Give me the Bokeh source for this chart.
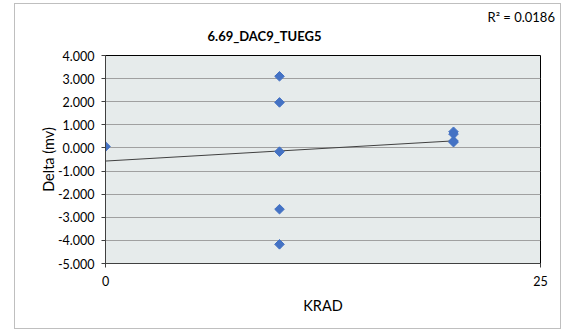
import numpy as np
from bokeh.plotting import figure
from bokeh.models import FixedTicker, NumeralTickFormatter, Title, Range1d
from bokeh.embed import file_html
from bokeh.resources import INLINE

# data
krad = [0, 10, 10, 10, 10, 10, 20, 20, 20, 20]
delta = [0.06, 3.10, 1.97, -0.16, -2.65, -4.17, 0.70, 0.60, 0.30, 0.25]
y_ticks = [-5, -4, -3, -2, -1, 0, 1, 2, 3, 4]
x_ticks = [0, 25]
title_text = "6.69_DAC9_TUEG5"
r2_text = "R\u00b2 = 0.0186"

FONT = "Lato"

W, H = 547, 326
ML, MR, MT, MB = 90, 22, 51, 67

p = figure(width=W, height=H, output_backend="svg", toolbar_location=None,
           x_range=Range1d(0, 25), y_range=Range1d(-5, 4),
           min_border_left=ML, min_border_right=MR, min_border_top=MT, min_border_bottom=MB)
p.styles = {"border": "1px solid #bfbfbf", "box-sizing": "border-box",
            "margin-left": "14px", "margin-top": "3px"}
p.background_fill_color = "#e6ebeb"
p.border_fill_color = "white"
p.outline_line_color = "black"
p.outline_line_width = 1

# trend line from linear regression of the data
x = np.array(krad, dtype=float)
y = np.array(delta, dtype=float)
slope, intercept = np.polyfit(x, y, 1)
xs = [min(krad), max(krad)]
p.line(xs, [intercept + slope * v for v in xs], line_color="#404040", line_width=1)

p.scatter(krad, delta, marker="square", angle=np.pi / 4, size=6.8,
          fill_color="#4472c4", line_color="#4472c4")

# axes
p.xaxis.ticker = FixedTicker(ticks=x_ticks)
p.yaxis.ticker = FixedTicker(ticks=y_ticks)
p.yaxis.formatter = NumeralTickFormatter(format="0.000")
for ax in (p.xaxis[0], p.yaxis[0]):
    ax.axis_line_color = "#404040"
    ax.major_tick_line_color = "#404040"
    ax.major_tick_out = 4
    ax.major_tick_in = 0
    ax.minor_tick_line_color = None
    ax.major_label_text_font = FONT
    ax.major_label_text_font_size = "12.5px"
    ax.major_label_text_color = "black"
    ax.axis_label_text_font = FONT
    ax.axis_label_text_font_size = "14.5px"
    ax.axis_label_text_font_style = "normal"
    ax.axis_label_text_color = "black"
p.xaxis.axis_label = "KRAD"
p.yaxis.axis_label = "Delta (mv)"
p.xaxis.major_label_standoff = 8
p.xaxis.axis_label_standoff = 8
p.yaxis.major_label_standoff = 7
p.yaxis.axis_label_standoff = -2

p.xgrid.grid_line_color = None
p.ygrid.grid_line_color = "#a0a0a0"
p.ygrid.grid_line_width = 1

p.title.visible = False
# main title (closest to the frame), then the R² note above it
p.add_layout(Title(text=title_text, text_font=FONT, text_font_size="13px",
                   text_font_style="bold", align="left", offset=102, standoff=20,
                   vertical_align="top", text_color="black"), "above")
p.add_layout(Title(text=r2_text, text_font=FONT, text_font_size="13px",
                   text_font_style="normal", align="left", offset=382, standoff=-14,
                   vertical_align="bottom", text_color="black"), "above")

open("out.html", "w").write(file_html(p, INLINE))
